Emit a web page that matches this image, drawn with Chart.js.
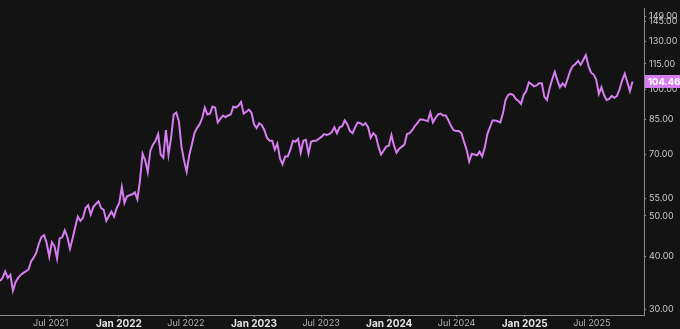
<!DOCTYPE html>
<html>
<head>
<meta charset="utf-8">
<script src="https://cdn.jsdelivr.net/npm/chart.js@4"></script>
<style>
  html, body { margin: 0; padding: 0; background: #131313; }
  canvas { display: block; }
</style>
</head>
<body>
<canvas id="priceChart" width="680" height="329"></canvas>
<script>
// weekly closes, first week starting 2021-02-14
const firstWeek = '2021-02-14';
const closes = [
  35.0, 35.6, 36.9, 35.6, 36.2, 33.2, 34.8, 35.6, 36.2, 36.6,
  36.9, 37.3, 39.0, 39.8, 40.9, 43.0, 44.5, 45.0, 43.1, 40.0,
  43.3, 42.4, 39.6, 44.2, 44.5, 46.2, 44.5, 41.8, 44.2, 47.0,
  49.8, 48.7, 49.5, 52.2, 53.0, 50.4, 52.5, 53.4, 54.2, 52.2,
  51.7, 48.7, 50.0, 51.2, 49.8, 52.2, 53.7, 58.6, 53.7, 55.7,
  56.0, 56.3, 56.9, 54.8, 60.7, 70.3, 67.8, 63.6, 71.5, 73.9,
  75.5, 78.3, 70.0, 68.8, 80.0, 70.0, 76.7, 87.2, 88.1, 84.0,
  73.1, 67.8, 63.7, 69.7, 73.9, 78.7, 80.9, 82.6, 85.5, 90.5,
  87.2, 87.6, 91.0, 90.5, 83.5, 85.1, 86.7, 85.9, 86.7, 87.2,
  91.0, 90.5, 91.5, 93.4, 87.6, 88.5, 89.5, 88.1, 82.6, 80.9,
  83.1, 82.2, 80.0, 76.7, 75.5, 75.5, 71.9, 74.3, 68.5, 66.4,
  69.3, 69.3, 71.9, 75.5, 75.1, 76.3, 70.7, 75.5, 75.9, 70.3,
  75.1, 75.5, 75.5, 76.3, 77.1, 78.3, 77.9, 78.3, 79.2, 81.3,
  78.7, 81.3, 81.8, 84.4, 82.6, 79.6, 78.7, 81.3, 83.5, 83.1,
  82.2, 83.1, 81.3, 76.7, 78.7, 77.5, 73.1, 70.0, 71.5, 73.1,
  73.5, 77.9, 73.5, 70.7, 72.3, 73.1, 73.9, 78.3, 78.7, 80.0,
  81.8, 83.1, 84.8, 84.8, 84.4, 84.0, 88.1, 83.5, 85.5, 87.2,
  87.6, 86.7, 86.7, 84.4, 81.8, 80.0, 79.6, 79.6, 78.7, 75.1,
  71.9, 67.4, 70.3, 70.0, 69.7, 71.1, 69.3, 72.7, 78.3, 81.3,
  84.4, 84.4, 84.0, 83.5, 87.6, 94.4, 97.0, 97.6, 97.0, 94.9,
  93.9, 92.4, 97.0, 99.1, 104.0, 103.0, 101.7, 102.2, 103.4, 103.4,
  96.0, 94.4, 100.6, 105.6, 110.2, 105.1, 101.2, 103.4, 101.7, 106.2,
  110.8, 113.8, 115.0, 116.9, 114.4, 117.5, 120.7, 113.8, 109.6, 108.5,
  105.6, 97.6, 101.2, 97.0, 94.4, 94.9, 96.5, 95.5, 96.5, 100.1,
  105.1, 109.0, 104.0, 99.1, 104.46
];

const xTickDates = ['2021-07-01', '2022-01-01', '2022-07-01', '2023-01-01', '2023-07-01',
                    '2024-01-01', '2024-07-01', '2025-01-01', '2025-07-01'];
const xTickLabels = ['Jul 2021', 'Jan 2022', 'Jul 2022', 'Jan 2023', 'Jul 2023',
                     'Jan 2024', 'Jul 2024', 'Jan 2025', 'Jul 2025'];
const yTickValues = [30, 40, 50, 55, 70, 85, 100, 115, 130, 145, 149];

const DAY = 86400000;
const LINE_COLOR = '#d67df0';
const AXIS_COLOR = '#8c8c8c';

const startMs = Date.parse(firstWeek);
const points = closes.map((v, i) => ({ x: startMs + i * 7 * DAY, y: v }));

// background + last price tag on the right axis
const bgAndTag = {
    id: 'bgAndTag',
    beforeDraw(chart) {
        const c = chart.ctx;
        c.save();
        c.fillStyle = '#131313';
        c.fillRect(0, 0, chart.width, chart.height);
        c.restore();
    },
    afterDraw(chart) {
        const c = chart.ctx;
        const last = closes[closes.length - 1];
        const y = chart.scales.y.getPixelForValue(last);
        const left = chart.chartArea.right + 1;
        c.save();
        c.fillStyle = LINE_COLOR;
        c.fillRect(left, y - 6.5, chart.width - left, 13);
        c.fillStyle = '#ffffff';
        c.font = 'bold 9.5px Inter';
        c.textBaseline = 'middle';
        c.textAlign = 'left';
        c.fillText(last.toFixed(2), left + 3, y + 0.5);
        c.restore();
    }
};

new Chart(document.getElementById('priceChart').getContext('2d'), {
    type: 'line',
    data: {
        datasets: [{
            data: points,
            borderColor: LINE_COLOR,
            borderWidth: 2,
            pointRadius: 0,
            tension: 0,
            fill: false
        }]
    },
    options: {
        responsive: false,
        animation: false,
        events: [],
        layout: { padding: 0 },
        plugins: { legend: { display: false }, tooltip: { enabled: false } },
        scales: {
            x: {
                type: 'linear',
                min: startMs,
                max: Date.parse('2025-11-19'),
                afterBuildTicks: (scale) => {
                    scale.ticks = xTickDates.map(d => ({ value: Date.parse(d) }));
                },
                afterFit: (scale) => { scale.height = 14; },
                border: { display: true, color: AXIS_COLOR, width: 1 },
                grid: { drawOnChartArea: false, drawTicks: true, tickLength: 2, color: AXIS_COLOR },
                ticks: {
                    autoSkip: false,
                    maxRotation: 0,
                    padding: 1,
                    callback: (v, i) => xTickLabels[i],
                    color: (ctx) => xTickLabels[ctx.index] && xTickLabels[ctx.index].startsWith('Jan') ? '#e6e6e6' : '#b4b4b4',
                    font: (ctx) => xTickLabels[ctx.index] && xTickLabels[ctx.index].startsWith('Jan')
                        ? { family: 'Inter', size: 10, weight: 'bold' }
                        : { family: 'Inter', size: 9 }
                }
            },
            y: {
                type: 'logarithmic',
                position: 'right',
                min: 29.06,
                max: 155.9,
                afterBuildTicks: (scale) => {
                    scale.ticks = yTickValues.map(v => ({ value: v }));
                },
                afterFit: (scale) => { scale.width = 36; },
                border: { display: true, color: AXIS_COLOR, width: 1 },
                grid: { drawOnChartArea: false, drawTicks: true, tickLength: 2, color: AXIS_COLOR },
                ticks: {
                    autoSkip: false,
                    padding: 3,
                    color: '#c8c8c8',
                    font: { family: 'Inter', size: 9 },
                    callback: (v) => Number(v).toFixed(2)
                }
            }
        }
    },
    plugins: [bgAndTag]
});
</script>
</body>
</html>
